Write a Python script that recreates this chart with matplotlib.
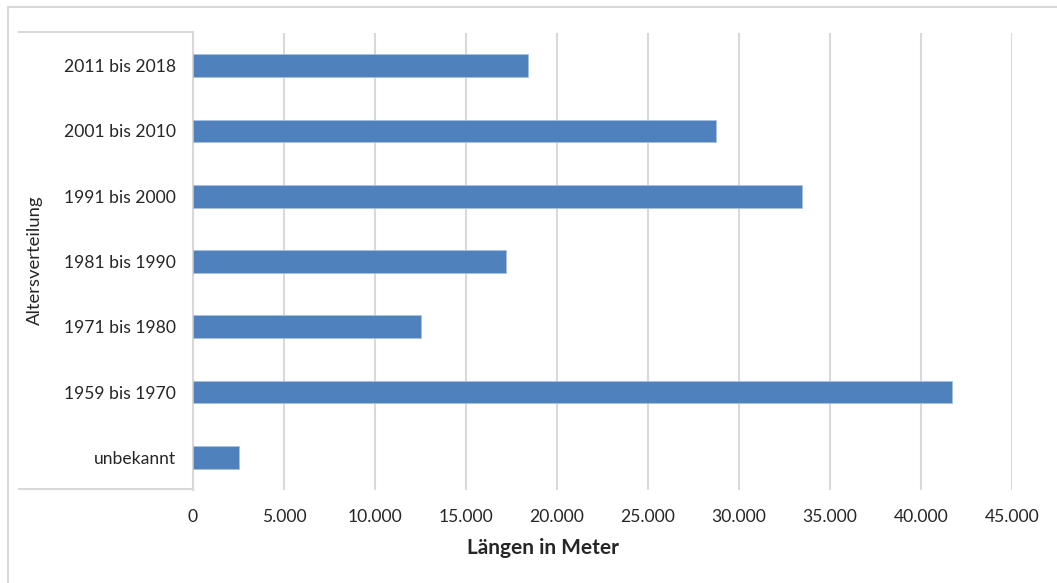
import matplotlib
matplotlib.use("Agg")
import matplotlib.pyplot as plt
from matplotlib.lines import Line2D
from matplotlib.ticker import FuncFormatter, MultipleLocator

categories = ['unbekannt', '1959 bis 1970', '1971 bis 1980', '1981 bis 1990',
              '1991 bis 2000', '2001 bis 2010', '2011 bis 2018']
lengths = [2530, 41720, 12510, 17210, 33460, 28710, 18380]

x_ticks_max = 45000
x_step = 5000

BAR_COLOR = '#4F81BD'
GRID_COLOR = '#D9D9D9'
TEXT_COLOR = '#262626'

plt.rcParams['font.family'] = ['Lato', 'DejaVu Sans']


def thousands(v, pos):
    # German style thousands separator
    return f'{int(v):,}'.replace(',', '.')


def main():
    W, H = 1057, 583
    fig = plt.figure(figsize=(W / 100, H / 100), dpi=100)
    ax = fig.add_axes([193 / W, 1 - 490 / H, (1012 - 193) / W, (490 - 33) / H])

    ypos = list(range(len(categories)))
    ax.barh(ypos, lengths, height=0.35, color=BAR_COLOR,
            edgecolor='#A9C1E0', linewidth=0.6, zorder=3)

    ax.set_xlim(0, x_ticks_max)
    ax.set_ylim(-0.5, len(categories) - 0.5)
    ax.xaxis.set_major_locator(MultipleLocator(x_step))
    ax.xaxis.set_major_formatter(FuncFormatter(thousands))
    ax.set_yticks(ypos)
    ax.set_yticklabels(categories)

    ax.grid(axis='x', color=GRID_COLOR, linewidth=1.5, zorder=0)
    ax.tick_params(axis='both', length=0, labelsize=12.6, colors=TEXT_COLOR)
    ax.tick_params(axis='x', pad=14)
    ax.tick_params(axis='y', pad=12)

    for side in ['top', 'right', 'bottom']:
        ax.spines[side].set_visible(False)
    ax.spines['left'].set_color(GRID_COLOR)
    ax.spines['left'].set_linewidth(1.5)

    # bracket lines around the category labels, like the Excel chart
    fx = lambda px: px / W
    fy = lambda py: 1 - py / H
    fig.add_artist(Line2D([fx(19), fx(193)], [fy(32), fy(32)], color=GRID_COLOR, lw=1.5))
    fig.add_artist(Line2D([fx(19), fx(193)], [fy(489), fy(489)], color=GRID_COLOR, lw=1.5))

    # outer chart border (cropped at right and bottom)
    fig.add_artist(Line2D([fx(8), fx(W)], [fy(7), fy(7)], color=GRID_COLOR, lw=1.5))
    fig.add_artist(Line2D([fx(8), fx(8)], [fy(7), fy(H)], color=GRID_COLOR, lw=1.5))

    fig.text(fx(35), fy(260), 'Altersverteilung', rotation=90, ha='center', va='center',
             fontsize=13.3, color=TEXT_COLOR)
    fig.text(fx(543), fy(548), 'Längen in Meter', ha='center', va='center',
             fontsize=15, fontweight='bold', color=TEXT_COLOR)

    fig.savefig('out.png', dpi=100, facecolor='white')


if __name__ == "__main__":
    main()
